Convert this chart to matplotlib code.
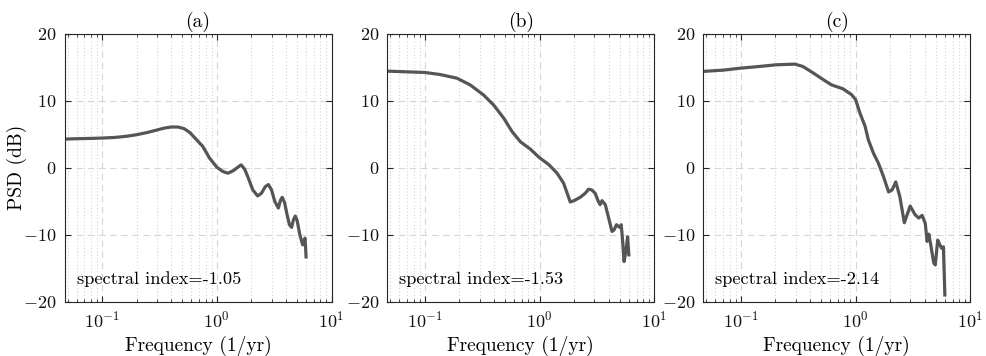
import numpy as np
import matplotlib
matplotlib.use("Agg")
import matplotlib.pyplot as plt
from matplotlib.ticker import LogLocator, FixedLocator, NullFormatter

plt.rcParams['font.family'] = ['cmr10', 'DejaVu Serif']
plt.rcParams['mathtext.fontset'] = 'cm'
plt.rcParams['axes.unicode_minus'] = False
plt.rcParams['axes.formatter.use_mathtext'] = True

panel_titles = ['(a)', '(b)', '(c)']
spectral_index = ['-1.05', '-1.53', '-2.14']

freq_a = [0.047, 0.06, 0.08, 0.10, 0.13, 0.16, 0.20, 0.25, 0.30, 0.35, 0.40, 0.46,
          0.52, 0.58, 0.65, 0.755, 0.865, 1.0, 1.13, 1.25, 1.4, 1.5, 1.63, 1.75,
          1.86, 2.06, 2.27, 2.45, 2.65, 2.82, 3.0, 3.2, 3.44, 3.6, 3.72, 3.9, 4.1,
          4.3, 4.49, 4.65, 4.83, 5.0, 5.3, 5.6, 5.75, 5.87, 5.95, 6.0]
psd_a = [4.3, 4.35, 4.4, 4.45, 4.55, 4.7, 4.95, 5.3, 5.65, 5.95, 6.1, 6.1,
         5.85, 5.3, 4.4, 3.2, 1.45, 0.1, -0.55, -0.8, -0.4, 0.0, 0.45, -0.2,
         -1.3, -3.3, -4.2, -3.8, -2.8, -2.5, -3.3, -5.0, -6.0, -4.8, -4.4, -5.2, -7.0,
         -8.5, -8.9, -7.8, -7.2, -7.8, -10.0, -11.5, -11.0, -10.5, -12.0, -13.3]

freq_b = [0.047, 0.1, 0.135, 0.19, 0.248, 0.324, 0.397, 0.488, 0.576, 0.68, 0.83,
          1.0, 1.2, 1.42, 1.62, 1.85, 2.0, 2.26, 2.5, 2.67, 2.85, 3.05, 3.25, 3.37,
          3.5, 3.74, 4.0, 4.28, 4.45, 4.68, 5.0, 5.15, 5.3, 5.45, 5.67, 5.85, 6.0]
psd_b = [14.45, 14.25, 13.95, 13.4, 12.4, 10.9, 9.4, 7.4, 5.4, 3.9, 2.8,
         1.5, 0.5, -0.8, -2.3, -5.1, -4.9, -4.4, -3.8, -3.2, -3.3, -3.8, -5.0, -5.5,
         -4.9, -5.5, -7.5, -9.5, -9.3, -8.5, -8.9, -8.5, -11.0, -14.0, -12.3, -10.3, -13.0]

freq_c = [0.046, 0.07, 0.1, 0.145, 0.203, 0.295, 0.347, 0.425, 0.52, 0.616, 0.778,
          0.92, 1.0, 1.09, 1.21, 1.29, 1.43, 1.58, 1.75, 1.94, 2.08, 2.24, 2.43,
          2.66, 2.99, 3.3, 3.55, 3.8, 4.05, 4.2, 4.35, 4.5, 4.8, 4.95, 5.2, 5.43,
          5.62, 5.83, 6.0]
psd_c = [14.4, 14.6, 14.9, 15.15, 15.4, 15.5, 15.15, 14.2, 13.2, 12.4, 11.8,
         10.95, 10.2, 8.2, 6.2, 4.2, 2.2, 0.7, -1.3, -3.6, -3.3, -2.1, -4.3,
         -8.2, -5.7, -7.0, -7.5, -7.1, -8.3, -11.0, -9.9, -11.3, -14.2, -14.5, -10.8, -11.5,
         -12.0, -11.8, -19.0]

series = [(freq_a, psd_a), (freq_b, psd_b), (freq_c, psd_c)]

fig = plt.figure(figsize=(9.86, 3.56), dpi=100)
W, H = 986, 356
lefts = [64.5, 387.3, 703.3]
aw = 267.0
top, bottom = 34.0, 301.7

line_color = '#555555'
spine_color = '#262626'

for i, (f, p) in enumerate(series):
    ax = fig.add_axes([lefts[i] / W, 1 - bottom / H, aw / W, (bottom - top) / H])
    ax.set_xscale('log')
    ax.set_xlim(0.047, 10)
    ax.set_ylim(-20, 20)
    ax.yaxis.set_major_locator(FixedLocator([-20, -10, 0, 10, 20]))
    ax.xaxis.set_major_locator(LogLocator(base=10, numticks=10))
    ax.xaxis.set_minor_locator(LogLocator(base=10, subs=np.arange(2, 10), numticks=20))
    ax.xaxis.set_minor_formatter(NullFormatter())
    ax.grid(True, which='major', linestyle=(0, (6, 4)), color='#d6d6d6', linewidth=0.8)
    ax.grid(True, which='minor', axis='x', linestyle=(0, (1, 2)), color='#d6d6d6', linewidth=0.8)
    ax.set_axisbelow(True)
    ax.plot(f, p, color=line_color, linewidth=2.3, solid_joinstyle='round')
    for s in ax.spines.values():
        s.set_color(spine_color)
        s.set_linewidth(0.8)
    ax.tick_params(which='both', direction='in', top=True, right=True,
                   colors=spine_color, labelcolor='#111111', labelsize=13)
    ax.tick_params(which='major', length=4, width=0.8, pad=6)
    ax.tick_params(which='minor', length=2, width=0.6)
    ax.set_title(panel_titles[i], fontsize=14, pad=5)
    ax.set_xlabel('Frequency (1/yr)', fontsize=14, labelpad=4)
    if i == 0:
        ax.set_ylabel('PSD (dB)', fontsize=14)
        ax.yaxis.set_label_coords(-0.142, 0.5)
    ax.text(0.045, 0.085, 'spectral index=' + spectral_index[i], transform=ax.transAxes,
            fontsize=13.2, ha='left', va='center')

fig.savefig('out.png', dpi=100)
